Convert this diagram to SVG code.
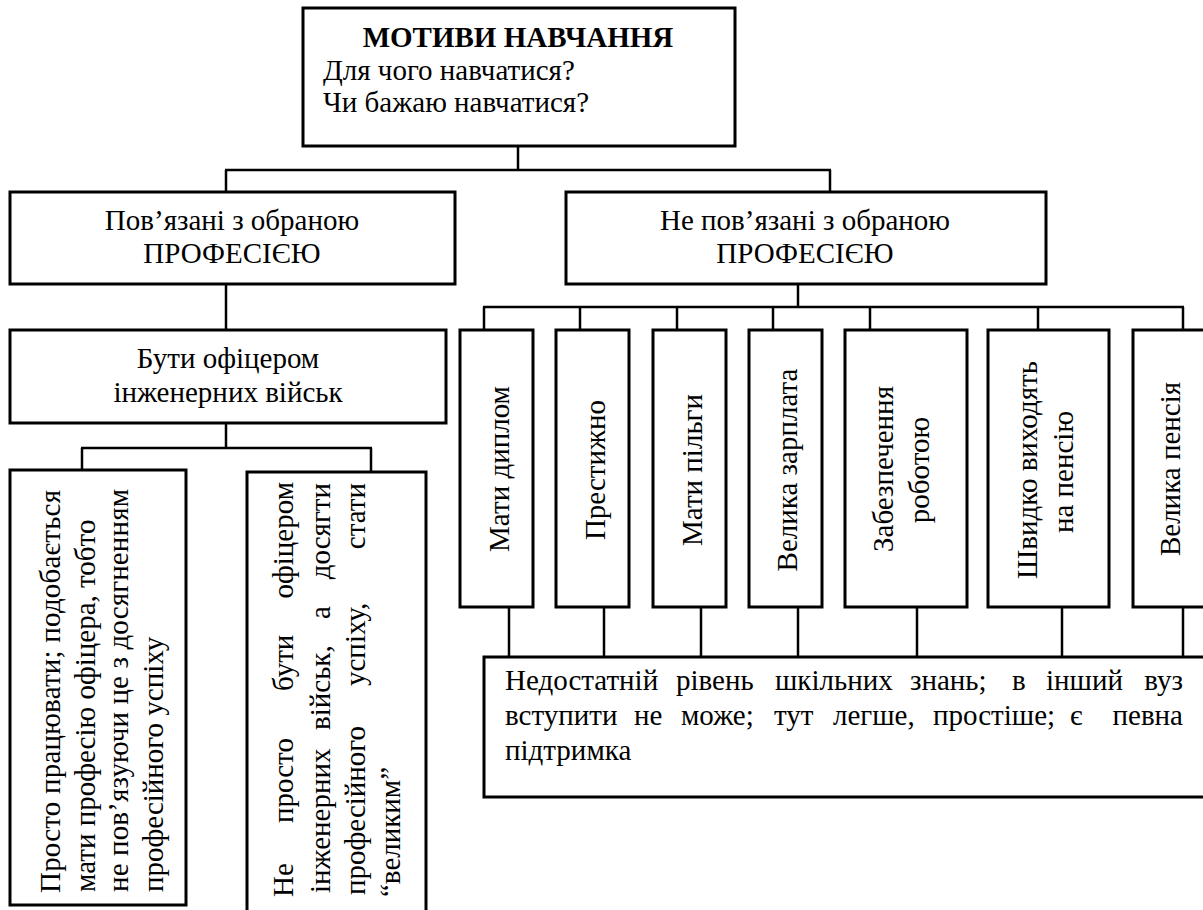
<svg xmlns="http://www.w3.org/2000/svg" width="1203" height="910" viewBox="0 0 1203 910">
<rect x="0" y="0" width="1203" height="910" fill="#fff"/>
<g id="connectors" stroke="#000" stroke-width="2.5">
<line x1="518" y1="146" x2="518" y2="170"/>
<line x1="225" y1="170" x2="831" y2="170"/>
<line x1="226" y1="170" x2="226" y2="192"/>
<line x1="830" y1="170" x2="830" y2="192"/>
<line x1="226" y1="284" x2="226" y2="330"/>
<line x1="226" y1="423" x2="226" y2="448"/>
<line x1="81" y1="448" x2="372" y2="448"/>
<line x1="82" y1="448" x2="82" y2="470"/>
<line x1="371" y1="448" x2="371" y2="472"/>
<line x1="798" y1="284" x2="798" y2="307"/>
<line x1="483" y1="307" x2="1184" y2="307"/>
<line x1="484" y1="307" x2="484" y2="330"/>
<line x1="580" y1="307" x2="580" y2="330"/>
<line x1="677" y1="307" x2="677" y2="330"/>
<line x1="773" y1="307" x2="773" y2="330"/>
<line x1="870" y1="307" x2="870" y2="330"/>
<line x1="1038" y1="307" x2="1038" y2="330"/>
<line x1="1183" y1="307" x2="1183" y2="330"/>
<line x1="509" y1="607" x2="509" y2="657"/>
<line x1="604" y1="607" x2="604" y2="657"/>
<line x1="701" y1="607" x2="701" y2="657"/>
<line x1="798" y1="607" x2="798" y2="657"/>
<line x1="917" y1="607" x2="917" y2="657"/>
<line x1="1062" y1="607" x2="1062" y2="657"/>
<line x1="1183" y1="607" x2="1183" y2="657"/>
</g>
<g id="motives">
<rect x="303" y="8" width="432" height="138" fill="#fff" stroke="#000" stroke-width="3"/>
<text font-family="'Liberation Serif', 'Noto Sans CJK SC', serif" font-size="29" font-weight="bold" text-anchor="middle" x="518" y="47">МОТИВИ НАВЧАННЯ</text>
<text font-family="'Liberation Serif', 'Noto Sans CJK SC', serif" font-size="29" x="323" y="80">Для чого навчатися?</text>
<text font-family="'Liberation Serif', 'Noto Sans CJK SC', serif" font-size="29" x="323" y="112">Чи бажаю навчатися?</text>
</g>
<g id="related">
<rect x="10" y="192" width="445" height="92" fill="#fff" stroke="#000" stroke-width="3"/>
<text font-family="'Liberation Serif', 'Noto Sans CJK SC', serif" font-size="29" text-anchor="middle" x="232" y="230">Пов’язані з обраною</text>
<text font-family="'Liberation Serif', 'Noto Sans CJK SC', serif" font-size="29" text-anchor="middle" x="232" y="263">ПРОФЕСІЄЮ</text>
</g>
<g id="unrelated">
<rect x="566" y="192" width="480" height="92" fill="#fff" stroke="#000" stroke-width="3"/>
<text font-family="'Liberation Serif', 'Noto Sans CJK SC', serif" font-size="29" text-anchor="middle" x="805" y="230">Не пов’язані з обраною</text>
<text font-family="'Liberation Serif', 'Noto Sans CJK SC', serif" font-size="29" text-anchor="middle" x="805" y="263">ПРОФЕСІЄЮ</text>
</g>
<g id="officer">
<rect x="10" y="330" width="436" height="93" fill="#fff" stroke="#000" stroke-width="3"/>
<text font-family="'Liberation Serif', 'Noto Sans CJK SC', serif" font-size="29" text-anchor="middle" x="228" y="368">Бути офіцером</text>
<text font-family="'Liberation Serif', 'Noto Sans CJK SC', serif" font-size="29" text-anchor="middle" x="228" y="402">інженерних військ</text>
</g>
<g id="just-work">
<rect x="10" y="470" width="176" height="435" fill="#fff" stroke="#000" stroke-width="3"/>
<text font-family="'Liberation Serif', 'Noto Sans CJK SC', serif" font-size="29" transform="rotate(-90)" x="-893" y="60" textLength="403" lengthAdjust="spacing">Просто працювати; подобається</text>
<text font-family="'Liberation Serif', 'Noto Sans CJK SC', serif" font-size="29" transform="rotate(-90)" x="-892" y="95">мати професію офіцера, тобто</text>
<text font-family="'Liberation Serif', 'Noto Sans CJK SC', serif" font-size="29" transform="rotate(-90)" x="-892" y="128" textLength="403" lengthAdjust="spacing">не пов’язуючи це з досягненням</text>
<text font-family="'Liberation Serif', 'Noto Sans CJK SC', serif" font-size="29" transform="rotate(-90)" x="-892" y="163">професійного успіху</text>
</g>
<g id="not-just">
<rect x="247" y="472" width="179" height="445" fill="#fff" stroke="#000" stroke-width="3"/>
<text font-family="'Liberation Serif', 'Noto Sans CJK SC', serif" font-size="29" transform="rotate(-90)" y="293"><tspan x="-897">Не</tspan><tspan x="-823">просто</tspan><tspan x="-691">бути</tspan><tspan x="-482" text-anchor="end">офіцером</tspan></text>
<text font-family="'Liberation Serif', 'Noto Sans CJK SC', serif" font-size="29" transform="rotate(-90)" y="330"><tspan x="-893">інженерних</tspan><tspan x="-730">військ,</tspan><tspan x="-619">а</tspan><tspan x="-483" text-anchor="end">досягти</tspan></text>
<text font-family="'Liberation Serif', 'Noto Sans CJK SC', serif" font-size="29" transform="rotate(-90)" y="365"><tspan x="-895">професійного</tspan><tspan x="-686">успіху,</tspan><tspan x="-483" text-anchor="end">стати</tspan></text>
<text font-family="'Liberation Serif', 'Noto Sans CJK SC', serif" font-size="29" transform="rotate(-90)" x="-897" y="400">“великим”</text>
</g>
<g id="diploma">
<rect x="460" y="330" width="73" height="277" fill="#fff" stroke="#000" stroke-width="3"/>
<text font-family="'Liberation Serif', 'Noto Sans CJK SC', serif" font-size="29" text-anchor="middle" transform="rotate(-90)" x="-469" y="509">Мати диплом</text>
</g>
<g id="prestige">
<rect x="556" y="330" width="73" height="277" fill="#fff" stroke="#000" stroke-width="3"/>
<text font-family="'Liberation Serif', 'Noto Sans CJK SC', serif" font-size="29" text-anchor="middle" transform="rotate(-90)" x="-470" y="605">Престижно</text>
</g>
<g id="benefits">
<rect x="653" y="330" width="73" height="277" fill="#fff" stroke="#000" stroke-width="3"/>
<text font-family="'Liberation Serif', 'Noto Sans CJK SC', serif" font-size="29" text-anchor="middle" transform="rotate(-90)" x="-470" y="702">Мати пільги</text>
</g>
<g id="salary">
<rect x="749" y="330" width="73" height="277" fill="#fff" stroke="#000" stroke-width="3"/>
<text font-family="'Liberation Serif', 'Noto Sans CJK SC', serif" font-size="29" text-anchor="middle" transform="rotate(-90)" x="-470" y="797">Велика зарплата</text>
</g>
<g id="employment">
<rect x="845" y="330" width="122" height="277" fill="#fff" stroke="#000" stroke-width="3"/>
<text font-family="'Liberation Serif', 'Noto Sans CJK SC', serif" font-size="29" text-anchor="middle" transform="rotate(-90)" x="-469" y="893">Забезпечення</text>
<text font-family="'Liberation Serif', 'Noto Sans CJK SC', serif" font-size="29" text-anchor="middle" transform="rotate(-90)" x="-470" y="929">роботою</text>
</g>
<g id="retire">
<rect x="988" y="330" width="121" height="277" fill="#fff" stroke="#000" stroke-width="3"/>
<text font-family="'Liberation Serif', 'Noto Sans CJK SC', serif" font-size="29" text-anchor="middle" transform="rotate(-90)" x="-470" y="1037">Швидко виходять</text>
<text font-family="'Liberation Serif', 'Noto Sans CJK SC', serif" font-size="29" text-anchor="middle" transform="rotate(-90)" x="-472" y="1073">на пенсію</text>
</g>
<g id="pension">
<rect x="1133" y="330" width="80" height="277" fill="#fff" stroke="#000" stroke-width="3"/>
<text font-family="'Liberation Serif', 'Noto Sans CJK SC', serif" font-size="29" text-anchor="middle" transform="rotate(-90)" x="-469" y="1180">Велика пенсія</text>
</g>
<g id="insufficient">
<rect x="484" y="657" width="730" height="140" fill="#fff" stroke="#000" stroke-width="3"/>
<text font-family="'Liberation Serif', 'Noto Sans CJK SC', serif" font-size="29" y="690"><tspan x="505">Недостатній</tspan><tspan x="676">рівень</tspan><tspan x="775">шкільних</tspan><tspan x="910">знань;</tspan><tspan x="1012">в</tspan><tspan x="1046">інший</tspan><tspan x="1183" text-anchor="end">вуз</tspan></text>
<text font-family="'Liberation Serif', 'Noto Sans CJK SC', serif" font-size="29" y="725"><tspan x="505">вступити</tspan><tspan x="634">не</tspan><tspan x="681">може;</tspan><tspan x="774">тут</tspan><tspan x="833">легше,</tspan><tspan x="933">простіше;</tspan><tspan x="1070">є</tspan><tspan x="1183" text-anchor="end">певна</tspan></text>
<text font-family="'Liberation Serif', 'Noto Sans CJK SC', serif" font-size="29" x="505" y="760">підтримка</text>
</g>
</svg>
